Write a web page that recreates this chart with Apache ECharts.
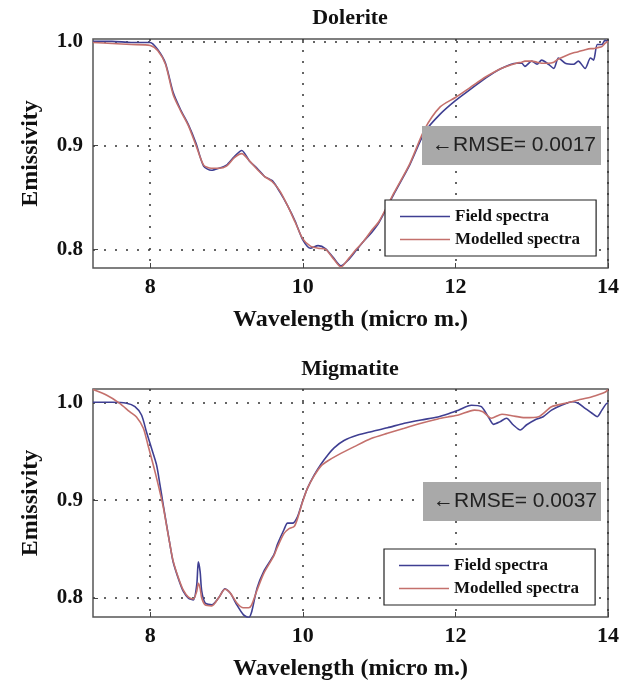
<!DOCTYPE html>
<html>
<head>
<meta charset="utf-8">
<script src="https://cdn.jsdelivr.net/npm/echarts@6/dist/echarts.min.js"></script>
<style>html,body{margin:0;padding:0;background:#fff;}#c{width:635px;height:682px;}</style>
</head>
<body>
<div id="c"></div>
<script>
// ---- Dolerite (top panel) ----
const doleriteWavelength = [7.25, 7.5, 7.75, 8.0, 8.1, 8.2, 8.3, 8.4, 8.5, 8.6, 8.7, 8.8, 8.9, 9.0, 9.1, 9.2, 9.3, 9.4, 9.5, 9.6, 9.7, 9.8, 9.9, 10.0, 10.1, 10.2, 10.3, 10.4, 10.5, 10.6, 10.7, 10.8, 10.9, 11.0, 11.2, 11.4, 11.6, 11.8, 12.0, 12.2, 12.4, 12.6, 12.8, 12.87, 12.91, 13.0, 13.07, 13.13, 13.22, 13.29, 13.35, 13.44, 13.55, 13.61, 13.70, 13.77, 13.81, 13.86, 13.92, 13.96, 14.0];
const doleriteField = [1.000, 1.000, 0.999, 0.999, 0.992, 0.979, 0.951, 0.934, 0.920, 0.902, 0.880, 0.876, 0.878, 0.881, 0.889, 0.895, 0.885, 0.878, 0.870, 0.866, 0.855, 0.842, 0.827, 0.809, 0.801, 0.8035, 0.8005, 0.792, 0.784, 0.790, 0.799, 0.808, 0.816, 0.826, 0.854, 0.881, 0.913, 0.930, 0.943, 0.954, 0.965, 0.974, 0.979, 0.979, 0.976, 0.981, 0.978, 0.982, 0.978, 0.974, 0.984, 0.979, 0.978, 0.981, 0.974, 0.984, 0.982, 0.997, 0.997, 1.001, 1.000];
const doleriteModelled = [0.999, 0.998, 0.997, 0.996, 0.991, 0.978, 0.949, 0.933, 0.919, 0.900, 0.881, 0.878, 0.878, 0.880, 0.888, 0.892, 0.885, 0.877, 0.870, 0.865, 0.856, 0.842, 0.826, 0.810, 0.803, 0.801, 0.800, 0.791, 0.783, 0.791, 0.800, 0.808, 0.818, 0.827, 0.855, 0.882, 0.916, 0.937, 0.946, 0.956, 0.966, 0.974, 0.979, 0.980, 0.981, 0.981, 0.980, 0.979, 0.979, 0.980, 0.983, 0.986, 0.989, 0.990, 0.992, 0.993, 0.993, 0.994, 0.995, 0.998, 1.000];

// ---- Migmatite (bottom panel) ----
const migmatiteFieldWavelength = [7.25, 7.5, 7.69, 7.80, 7.886, 7.95, 8.017, 8.083, 8.128, 8.171, 8.214, 8.26, 8.30, 8.368, 8.434, 8.50, 8.566, 8.61, 8.63, 8.654, 8.675, 8.72, 8.807, 8.895, 8.98, 9.05, 9.135, 9.22, 9.29, 9.33, 9.40, 9.487, 9.62, 9.667, 9.754, 9.80, 9.865, 9.93, 9.996, 10.06, 10.15, 10.24, 10.325, 10.41, 10.54, 10.72, 10.895, 11.11, 11.33, 11.55, 11.77, 11.90, 12.04, 12.21, 12.34, 12.43, 12.50, 12.58, 12.67, 12.76, 12.85, 12.93, 13.04, 13.15, 13.26, 13.39, 13.53, 13.61, 13.70, 13.79, 13.86, 13.92, 13.99, 14.0];
const migmatiteField = [1.000, 1.000, 0.999, 0.9955, 0.987, 0.970, 0.953, 0.936, 0.9156, 0.895, 0.875, 0.854, 0.837, 0.820, 0.8067, 0.800, 0.798, 0.8136, 0.837, 0.827, 0.807, 0.795, 0.793, 0.800, 0.8095, 0.805, 0.793, 0.783, 0.780, 0.786, 0.810, 0.827, 0.844, 0.8548, 0.870, 0.8765, 0.8765, 0.883, 0.8986, 0.912, 0.9258, 0.937, 0.946, 0.9535, 0.961, 0.9665, 0.970, 0.974, 0.9786, 0.982, 0.985, 0.988, 0.992, 0.997, 0.9955, 0.9853, 0.9775, 0.980, 0.9837, 0.9768, 0.9717, 0.9768, 0.982, 0.9853, 0.992, 0.997, 1.0006, 0.999, 0.9939, 0.9888, 0.9853, 0.992, 0.999, 0.999];
const migmatiteModelledWavelength = [7.25, 7.425, 7.60, 7.73, 7.82, 7.91, 7.97, 8.04, 8.105, 8.171, 8.214, 8.26, 8.30, 8.368, 8.434, 8.50, 8.566, 8.61, 8.63, 8.654, 8.675, 8.72, 8.807, 8.895, 8.98, 9.05, 9.135, 9.22, 9.29, 9.33, 9.40, 9.487, 9.62, 9.667, 9.754, 9.82, 9.886, 9.93, 9.996, 10.06, 10.15, 10.24, 10.325, 10.457, 10.675, 10.895, 11.11, 11.33, 11.55, 11.77, 11.90, 12.04, 12.25, 12.36, 12.47, 12.61, 12.74, 12.91, 13.09, 13.26, 13.44, 13.61, 13.79, 13.96, 14.0];
const migmatiteModelled = [1.013, 1.0074, 0.999, 0.9904, 0.985, 0.9735, 0.9564, 0.936, 0.9156, 0.893, 0.874, 0.854, 0.838, 0.821, 0.808, 0.801, 0.799, 0.807, 0.815, 0.810, 0.800, 0.793, 0.792, 0.800, 0.809, 0.805, 0.795, 0.790, 0.790, 0.793, 0.808, 0.825, 0.843, 0.852, 0.866, 0.871, 0.873, 0.881, 0.898, 0.912, 0.925, 0.935, 0.940, 0.946, 0.9547, 0.963, 0.9684, 0.9735, 0.9786, 0.983, 0.985, 0.987, 0.992, 0.9904, 0.9837, 0.9878, 0.9863, 0.9843, 0.9853, 0.9955, 0.999, 1.0023, 1.0057, 1.0102, 1.013];

// ---- Axis ticks / labels / texts ----
const xTicks = [8, 10, 12, 14];
const yTicks = [0.8, 0.9, 1.0];
const panelTitles = ['Dolerite', 'Migmatite'];
const rmseTexts = ['\u2190RMSE= 0.0017', '\u2190RMSE= 0.0037'];
const seriesNames = ['Field spectra', 'Modelled spectra'];
const xAxisTitle = 'Wavelength (micro m.)';
const yAxisTitle = 'Emissivity';

const pairs = (xs, ys) => xs.map((v, i) => [v, ys[i]]);

const SERIF = '"Liberation Serif", "Times New Roman", serif';
const FIELD_COLOR = '#3f3f92';
const MODEL_COLOR = '#c4706c';

const grids = [
  { left: 93, right: 27, top: 39, height: 229 },
  { left: 93, right: 27, top: 389, height: 228 }
];
const yRanges = [[0.782, 1.0023], [0.7806, 1.0136]];

function xAxisOf(i) {
  return {
    type: 'value', gridIndex: i, min: 7.25, max: 14,
    name: xAxisTitle, nameLocation: 'middle', nameGap: 40,
    nameTextStyle: { fontFamily: SERIF, fontWeight: 'bold', fontSize: 24, color: '#111' },
    axisLine: { show: false },
    axisTick: { show: true, inside: true, length: 5, customValues: xTicks, lineStyle: { color: '#444' } },
    axisLabel: { customValues: xTicks, margin: 8, fontFamily: SERIF, fontWeight: 'bold', fontSize: 22, color: '#111' },
    splitLine: { show: true, lineStyle: { color: '#333', width: 1.5, type: [2, 9] } }
  };
}
function yAxisOf(i) {
  return {
    type: 'value', gridIndex: i, min: yRanges[i][0], max: yRanges[i][1],
    name: yAxisTitle, nameLocation: 'middle', nameGap: 50,
    nameTextStyle: { fontFamily: SERIF, fontWeight: 'bold', fontSize: 24, color: '#111' },
    axisLine: { show: false },
    axisTick: { show: true, inside: true, length: 5, customValues: yTicks, lineStyle: { color: '#444' } },
    axisLabel: { customValues: yTicks, margin: 10, formatter: v => v.toFixed(1), fontFamily: SERIF, fontWeight: 'bold', fontSize: 21, color: '#111' },
    splitLine: { show: true, lineStyle: { color: '#333', width: 1.5, type: [2, 9] } }
  };
}
function lineSeries(name, data, i, color, z) {
  return {
    name, type: 'line', data, xAxisIndex: i, yAxisIndex: i,
    symbol: 'none', showSymbol: false, smooth: 0.25, z,
    lineStyle: { color, width: 1.6 }, itemStyle: { color },
    emphasis: { disabled: true }, animation: false
  };
}
function legendOf(left, top) {
  return {
    orient: 'vertical', left, top, data: seriesNames,
    icon: 'path://M0,0 L50,0 L50,1.6 L0,1.6 Z',
    itemWidth: 50, itemHeight: 14, itemGap: 6, padding: [8, 16, 8, 15],
    borderColor: '#222', borderWidth: 1.2, backgroundColor: '#fff',
    textStyle: { fontFamily: SERIF, fontWeight: 'bold', fontSize: 17, color: '#111' },
    selectedMode: false
  };
}
function rmseBox(x, y, w, h, text) {
  return [
    { type: 'rect', z: 50, shape: { x, y, width: w, height: h }, style: { fill: '#a9a9a9' } },
    { type: 'text', z: 51, x: x + 10, y: y + h / 2, style: { text, fill: '#222', font: '21px "Liberation Sans", Arial, sans-serif', verticalAlign: 'middle', align: 'left' } }
  ];
}

const chart = echarts.init(document.getElementById('c'), null, { renderer: 'canvas' });
chart.setOption({
  backgroundColor: '#fff',
  animation: false,
  grid: grids.map(g => Object.assign({ show: true, borderColor: '#555', borderWidth: 1.5, backgroundColor: 'transparent', outerBoundsMode: 'none' }, g)),
  xAxis: [xAxisOf(0), xAxisOf(1)],
  yAxis: [yAxisOf(0), yAxisOf(1)],
  legend: [legendOf(385, 200), legendOf(384, 549)],
  series: [
    lineSeries(seriesNames[0], pairs(doleriteWavelength, doleriteField), 0, FIELD_COLOR, 2),
    lineSeries(seriesNames[1], pairs(doleriteWavelength, doleriteModelled), 0, MODEL_COLOR, 3),
    lineSeries(seriesNames[0], pairs(migmatiteFieldWavelength, migmatiteField), 1, FIELD_COLOR, 2),
    lineSeries(seriesNames[1], pairs(migmatiteModelledWavelength, migmatiteModelled), 1, MODEL_COLOR, 3)
  ],
  graphic: [
    { type: 'text', z: 50, x: 350, y: 7, style: { text: panelTitles[0], fill: '#111', font: 'bold 22px ' + SERIF, align: 'center', verticalAlign: 'top' } },
    { type: 'text', z: 50, x: 350, y: 358, style: { text: panelTitles[1], fill: '#111', font: 'bold 22px ' + SERIF, align: 'center', verticalAlign: 'top' } },
    ...rmseBox(422, 126, 179, 39, rmseTexts[0]),
    ...rmseBox(423, 482, 178, 39, rmseTexts[1])
  ]
});
</script>
</body>
</html>
